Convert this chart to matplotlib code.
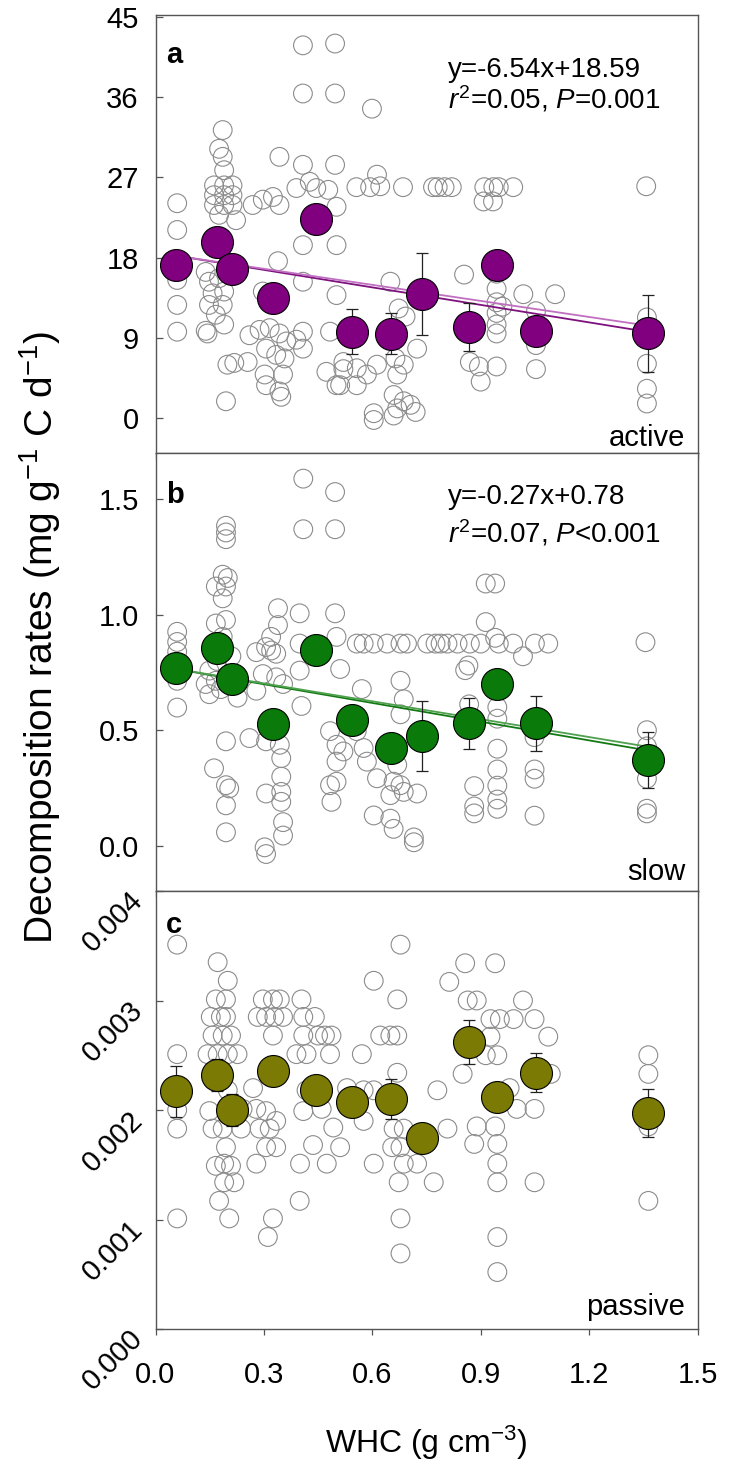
import matplotlib
matplotlib.use('Agg')
import matplotlib.pyplot as plt
import matplotlib.transforms as mtransforms
import numpy as np

plt.rcParams['font.family'] = ['Liberation Sans', 'DejaVu Sans']
plt.rcParams['mathtext.fontset'] = 'custom'
plt.rcParams['mathtext.rm'] = 'Liberation Sans'
plt.rcParams['mathtext.it'] = 'Liberation Sans:italic'
plt.rcParams['mathtext.bf'] = 'Liberation Sans:bold'

# ---------------- data ----------------
whc_means = [0.056, 0.169, 0.213, 0.326, 0.443, 0.544, 0.653, 0.738, 0.867, 0.944, 1.053, 1.362]

active_means = [17.2, 19.8, 16.7, 13.5, 22.3, 9.7, 9.45, 13.95, 10.2, 17.2, 9.8, 9.5]
active_err = [1.0, 1.5, 1.2, 1.5, 1.5, 2.5, 2.3, 4.6, 2.7, 1.5, 1.5, 4.3]
slow_means = [0.768, 0.855, 0.722, 0.526, 0.848, 0.545, 0.422, 0.475, 0.530, 0.700, 0.530, 0.371]
slow_err = [0.05, 0.06, 0.05, 0.06, 0.06, 0.06, 0.05, 0.15, 0.11, 0.06, 0.12, 0.12]
passive_means = [0.00217, 0.00232, 0.00200, 0.00236, 0.00218, 0.00207, 0.00210, 0.00174, 0.00262, 0.00212, 0.00234, 0.00197]
passive_err = [0.00023, 0.00015, 0.00015, 0.00012, 0.00012, 0.00010, 0.00018, 0.00010, 0.00020, 0.00010, 0.00018, 0.00022]

active_raw_x = [0.06, 0.06, 0.06, 0.06, 0.06, 0.06,
                0.186, 0.176, 0.186, 0.19, 0.162, 0.19, 0.213, 0.162, 0.19, 0.213, 0.162, 0.19, 0.213,
                0.176, 0.223, 0.139, 0.148, 0.176, 0.158, 0.19, 0.148, 0.186, 0.167, 0.19, 0.144, 0.139,
                0.199, 0.218, 0.195,
                0.269, 0.297, 0.325, 0.343, 0.343, 0.339, 0.297, 0.26, 0.288, 0.316, 0.343, 0.362,
                0.255, 0.306, 0.334, 0.357, 0.302, 0.353, 0.306, 0.343, 0.348,
                0.408, 0.497, 0.408, 0.497, 0.599, 0.408, 0.497, 0.39, 0.427, 0.445, 0.478, 0.501,
                0.408, 0.501, 0.408, 0.408, 0.408, 0.39, 0.501, 0.483, 0.473, 0.501, 0.52,
                0.556, 0.594, 0.613, 0.622, 0.685, 0.65, 0.673, 0.692, 0.724,
                0.52, 0.557, 0.585, 0.613, 0.557, 0.511,
                0.604, 0.604, 0.659, 0.669, 0.687, 0.706, 0.72, 0.659, 0.669, 0.664, 0.687,
                0.768, 0.781, 0.80, 0.82, 0.854,
                0.91, 0.935, 0.95, 0.99, 0.908, 0.934,
                0.87, 0.895, 0.90, 0.944, 0.944, 0.944, 0.944, 0.944, 0.944, 0.944, 0.96,
                1.018, 1.106, 1.053, 1.053, 1.053,
                1.358, 1.36, 1.36, 1.36, 1.36]
active_raw_y = [24.1, 21.1, 15.5, 12.7, 9.7, 17.5,
                32.3, 30.2, 29.3, 27.8, 26.1, 26.1, 26.1, 25.0, 25.0, 25.0, 23.9, 23.9, 23.9,
                22.8, 22.2, 16.4, 15.3, 15.7, 14.0, 14.2, 12.7, 12.7, 11.6, 10.5, 9.5, 9.8,
                6.0, 6.2, 1.9,
                23.9, 24.5, 24.8, 23.9, 29.3, 17.6, 14.2, 9.3, 9.9, 10.1, 9.5, 8.6,
                6.3, 7.8, 7.1, 6.7, 4.9, 4.9, 3.7, 3.0, 2.4,
                41.8, 42.0, 36.4, 36.4, 34.7, 28.4, 28.4, 25.8, 26.5, 25.8, 25.6, 23.7,
                19.4, 19.4, 15.3, 9.7, 7.8, 8.8, 13.8, 9.7, 5.2, 3.7, 5.5,
                25.9, 25.9, 27.3, 26.0, 25.9, 15.3, 12.3, 11.4, 7.8,
                6.3, 5.6, 4.9, 6.0, 3.7, 3.7,
                0.56, -0.2, 2.6, 1.1, 1.9, 1.5, 0.7, 0.3, 4.9, 6.7, 6.0,
                25.9, 25.9, 25.9, 25.9, 16.1,
                25.9, 25.9, 25.9, 25.9, 24.3, 24.3,
                6.3, 5.8, 4.1, 16.2, 14.5, 13.0, 11.8, 10.5, 9.5, 5.8, 12.5,
                13.9, 13.9, 8.2, 5.5, 12.0,
                26.0, 11.3, 6.1, 3.3, 1.65]

slow_raw_x = [0.06, 0.06, 0.06, 0.06, 0.06, 0.06,
              0.195, 0.195, 0.195, 0.186, 0.2, 0.167, 0.195, 0.186, 0.167, 0.195, 0.186, 0.149, 0.139,
              0.167, 0.149, 0.181, 0.227, 0.195, 0.162, 0.195, 0.204, 0.195, 0.195, 0.26, 0.17, 0.21,
              0.339, 0.339, 0.320, 0.306, 0.320, 0.279, 0.334, 0.334, 0.297, 0.279, 0.353, 0.306, 0.344,
              0.348, 0.348, 0.306, 0.348, 0.348, 0.353, 0.353, 0.302, 0.306, 0.399, 0.399, 0.399, 0.404,
              0.409, 0.497, 0.409, 0.497, 0.497, 0.501, 0.511, 0.483, 0.501, 0.501, 0.483, 0.501, 0.487, 0.520,
              0.557, 0.576, 0.604, 0.641, 0.678, 0.696, 0.752, 0.775, 0.789, 0.808, 0.836, 0.87, 0.90, 0.95,
              0.99, 1.05, 1.087, 1.356,
              0.571, 0.557, 0.576, 0.585, 0.613, 0.604, 0.678, 0.687, 0.678, 0.669, 0.659, 0.678, 0.687,
              0.650, 0.724, 0.650, 0.659, 0.715, 0.715,
              0.914, 0.94, 0.914, 0.857, 0.866, 0.94, 0.868, 0.882, 0.882, 0.882, 0.946, 0.946, 0.946,
              0.946, 0.946, 0.946, 0.946, 1.049, 1.049, 1.049, 1.017, 1.049,
              1.36, 1.36, 1.36, 1.36, 1.36]
slow_raw_y = [0.926, 0.882, 0.84, 0.714, 0.598, 0.76,
              1.385, 1.356, 1.327, 1.173, 1.159, 1.122, 1.122, 1.071, 0.962, 0.977, 0.904, 0.758, 0.700,
              0.714, 0.656, 0.678, 0.641, 0.452, 0.335, 0.262, 0.248, 0.175, 0.058, 0.466, 0.80, 0.82,
              1.028, 0.955, 0.904, 0.860, 0.845, 0.838, 0.831, 0.729, 0.743, 0.671, 0.700, 0.452, 0.437,
              0.379, 0.299, 0.226, 0.233, 0.190, 0.102, 0.044, -0.007, -0.036, 1.006, 0.875, 0.758, 0.605,
              1.589, 1.531, 1.370, 1.370, 1.006, 0.904, 0.765, 0.496, 0.437, 0.364, 0.262, 0.277, 0.190, 0.408,
              0.875, 0.875, 0.875, 0.875, 0.875, 0.875, 0.875, 0.875, 0.875, 0.875, 0.875, 0.875, 0.875, 0.875,
              0.875, 0.875, 0.875, 0.881,
              0.678, 0.496, 0.423, 0.364, 0.292, 0.131, 0.714, 0.634, 0.569, 0.350, 0.277, 0.262, 0.233,
              0.219, 0.226, 0.117, 0.073, 0.036, 0.015,
              1.135, 1.135, 0.968, 0.76, 0.78, 0.90, 0.612, 0.258, 0.17, 0.14, 0.42, 0.33, 0.26,
              0.20, 0.16, 0.60, 0.55, 0.33, 0.29, 0.13, 0.82, 0.47,
              0.43, 0.29, 0.16, 0.14, 0.50]

passive_raw_x = [0.06, 0.06, 0.06, 0.06, 0.06,
                 0.172, 0.2, 0.167, 0.195, 0.153, 0.181, 0.195, 0.158, 0.186, 0.209, 0.144, 0.172, 0.2, 0.227,
                 0.149, 0.158, 0.186, 0.195, 0.167, 0.19, 0.209, 0.19, 0.218, 0.176, 0.204, 0.241, 0.237, 0.2,
                 0.297, 0.325, 0.344, 0.283, 0.306, 0.329, 0.353, 0.325, 0.279, 0.306, 0.334, 0.288, 0.316,
                 0.306, 0.334, 0.279, 0.325, 0.311, 0.27,
                 0.404, 0.409, 0.441, 0.409, 0.45, 0.469, 0.487, 0.39, 0.418, 0.483, 0.418, 0.409, 0.436,
                 0.4, 0.474, 0.511, 0.492, 0.399, 0.46,
                 0.571, 0.604, 0.622, 0.65, 0.669, 0.678, 0.669, 0.576, 0.576, 0.604, 0.604, 0.669, 0.659,
                 0.687, 0.655, 0.678, 0.687, 0.673, 0.678, 0.678, 0.78, 0.808, 0.77, 0.724, 0.53,
                 0.857, 0.94, 0.813, 0.864, 0.889, 1.017, 0.927, 0.953, 0.991, 1.049, 1.087, 0.927, 0.914,
                 0.946, 0.85, 1.094, 0.889, 0.94, 0.882, 0.946, 0.946, 0.946, 1.049, 1.049, 0.946, 0.946,
                 0.98, 1.0,
                 1.364, 1.364, 1.364, 1.364]
passive_raw_y = [0.00351, 0.00251, 0.00183, 0.00101, 0.00200,
                 0.00335, 0.00318, 0.00301, 0.00301, 0.00285, 0.00285, 0.00285, 0.00268, 0.00268, 0.00268,
                 0.00251, 0.00251, 0.00251, 0.00251,
                 0.00199, 0.00183, 0.00183, 0.00166, 0.00149, 0.00151, 0.00149, 0.00134, 0.00134, 0.00117,
                 0.00101, 0.00201, 0.00183, 0.00218,
                 0.00301, 0.00301, 0.00301, 0.00285, 0.00285, 0.00285, 0.00285, 0.00268, 0.00201, 0.00199,
                 0.00190, 0.00183, 0.00183, 0.00166, 0.00166, 0.00151, 0.00101, 0.00084, 0.00220,
                 0.00301, 0.00285, 0.00285, 0.00268, 0.00268, 0.00268, 0.00268, 0.00251, 0.00251, 0.00251,
                 0.00218, 0.00199, 0.00168, 0.00151, 0.00151, 0.00166, 0.00184, 0.00117, 0.00201,
                 0.00251, 0.00318, 0.00268, 0.00268, 0.00268, 0.00351, 0.00301, 0.00218, 0.00190, 0.00218,
                 0.00151, 0.00234, 0.00183, 0.00183, 0.00166, 0.00166, 0.00151, 0.00134, 0.00101, 0.00069,
                 0.00218, 0.00183, 0.00134, 0.00151, 0.00220,
                 0.00334, 0.00334, 0.00317, 0.00300, 0.00300, 0.00300, 0.00283, 0.00283, 0.00283, 0.00283,
                 0.00267, 0.00267, 0.00250, 0.00250, 0.00233, 0.00233, 0.00185, 0.00185, 0.00169, 0.00169,
                 0.00151, 0.00134, 0.00134, 0.00201, 0.00084, 0.00052, 0.00220, 0.00201,
                 0.00250, 0.00233, 0.00117, 0.00185]

# regression fits (slope, intercept): published fit and a second fitted line
active_fit = [(-6.54, 18.59), (-6.00, 18.55)]
slow_fit = [(-0.27, 0.78), (-0.258, 0.78)]

panel_letters = ['a', 'b', 'c']
pool_names = ['active', 'slow', 'passive']
equations = [['y=-6.54x+18.59', r'$\mathit{r}^{2}$=0.05, $\mathit{P}$=0.001'],
             ['y=-0.27x+0.78', r'$\mathit{r}^{2}$=0.07, $\mathit{P}$<0.001'],
             None]
yticks_a = [0, 9, 18, 27, 36, 45]
yticks_b = [0.0, 0.5, 1.0, 1.5]
yticks_c = [0.000, 0.001, 0.002, 0.003, 0.004]
xticks = [0.0, 0.3, 0.6, 0.9, 1.2, 1.5]

colors = ['#800080', '#0a7a0a', '#7a7a05']
fit_colors = [['#7d117d', '#c070c0'], ['#137a13', '#4fa04f']]

# ---------------- figure ----------------
W, H = 730, 1470
fig = plt.figure(figsize=(W / 100, H / 100), dpi=100)
left = 155.5 / W
width = 542 / W
ph = 438 / H
tops = [15, 453, 891]
axes = [fig.add_axes([left, 1 - (t + 438) / H, width, ph]) for t in tops]

raw_x = [active_raw_x, slow_raw_x, passive_raw_x]
raw_y = [active_raw_y, slow_raw_y, passive_raw_y]
means = [active_means, slow_means, passive_means]
errs = [active_err, slow_err, passive_err]
fits = [active_fit, slow_fit, None]
ylims = [(-3.9, 45.2), (-0.196, 1.70), (0.0, 0.004)]
yticks = [yticks_a, yticks_b, yticks_c]
ytl = [[str(v) for v in yticks_a], ['%.1f' % v for v in yticks_b], ['%.3f' % v for v in yticks_c]]
eq_y = [(0.874, 0.808), (0.900, 0.817)]
letter_y = [0.909, 0.904, 0.922]
pool_y = [0.034, 0.044, 0.051]

fs_tick = 21
for i, ax in enumerate(axes):
    ax.scatter(raw_x[i], raw_y[i], s=13.5 ** 2, facecolors='none', edgecolors='#8c8c8c',
               linewidths=0.8, zorder=2)
    if fits[i] is not None:
        xx = np.array([whc_means[0], whc_means[-1]])
        for k, (m, b) in enumerate(fits[i]):
            ax.plot(xx, m * xx + b, color=fit_colors[i][k], lw=1.3, zorder=3,
                    solid_capstyle='butt')
    ax.errorbar(whc_means, means[i], yerr=errs[i], fmt='none', ecolor='#222222',
                elinewidth=0.9, capsize=4.5, capthick=0.9, zorder=4)
    ax.scatter(whc_means, means[i], s=23 ** 2, c=colors[i], edgecolors='black',
               linewidths=0.8, zorder=5)
    ax.set_xlim(0, 1.5)
    ax.set_ylim(*ylims[i])
    ax.set_xticks(xticks)
    ax.set_yticks(yticks[i])
    for sp in ax.spines.values():
        sp.set_color('#555555')
        sp.set_linewidth(1.0)
    ax.tick_params(axis='x', direction='out', length=4, width=0.9, color='#555555',
                   labelsize=fs_tick, pad=19)
    ax.tick_params(axis='y', direction='in', length=5, width=0.9, color='#555555',
                   labelsize=fs_tick, pad=12)
    if i < 2:
        ax.set_xticklabels([])
        ax.set_yticklabels(ytl[i])
    else:
        ax.set_xticklabels(['%.1f' % v for v in xticks])
        ax.set_yticklabels(ytl[i], rotation=45, ha='right', va='center',
                           rotation_mode='anchor')
        off = mtransforms.ScaledTranslation(0, -4 / 72, fig.dpi_scale_trans)
        for lab in ax.get_yticklabels():
            lab.set_transform(lab.get_transform() + off)
    ax.text(0.020, letter_y[i], panel_letters[i], transform=ax.transAxes, fontsize=21,
            fontweight='bold', ha='left', va='center')
    ax.text(0.977, pool_y[i], pool_names[i], transform=ax.transAxes, fontsize=21,
            ha='right', va='center')
    if equations[i] is not None:
        ax.text(0.54, eq_y[i][0], equations[i][0], transform=ax.transAxes, fontsize=20,
                ha='left', va='center')
        ax.text(0.54, eq_y[i][1], equations[i][1], transform=ax.transAxes, fontsize=20,
                ha='left', va='center')

fig.text(40 / W, 1 - 637 / H, r'Decomposition rates (mg g$^{-1}$ C d$^{-1}$)',
         rotation=90, ha='center', va='center', fontsize=28)
fig.text(426.6 / W, 1 - 1443 / H, r'WHC (g cm$^{-3}$)', ha='center', va='center', fontsize=23)

fig.savefig('out.png', dpi=100)
